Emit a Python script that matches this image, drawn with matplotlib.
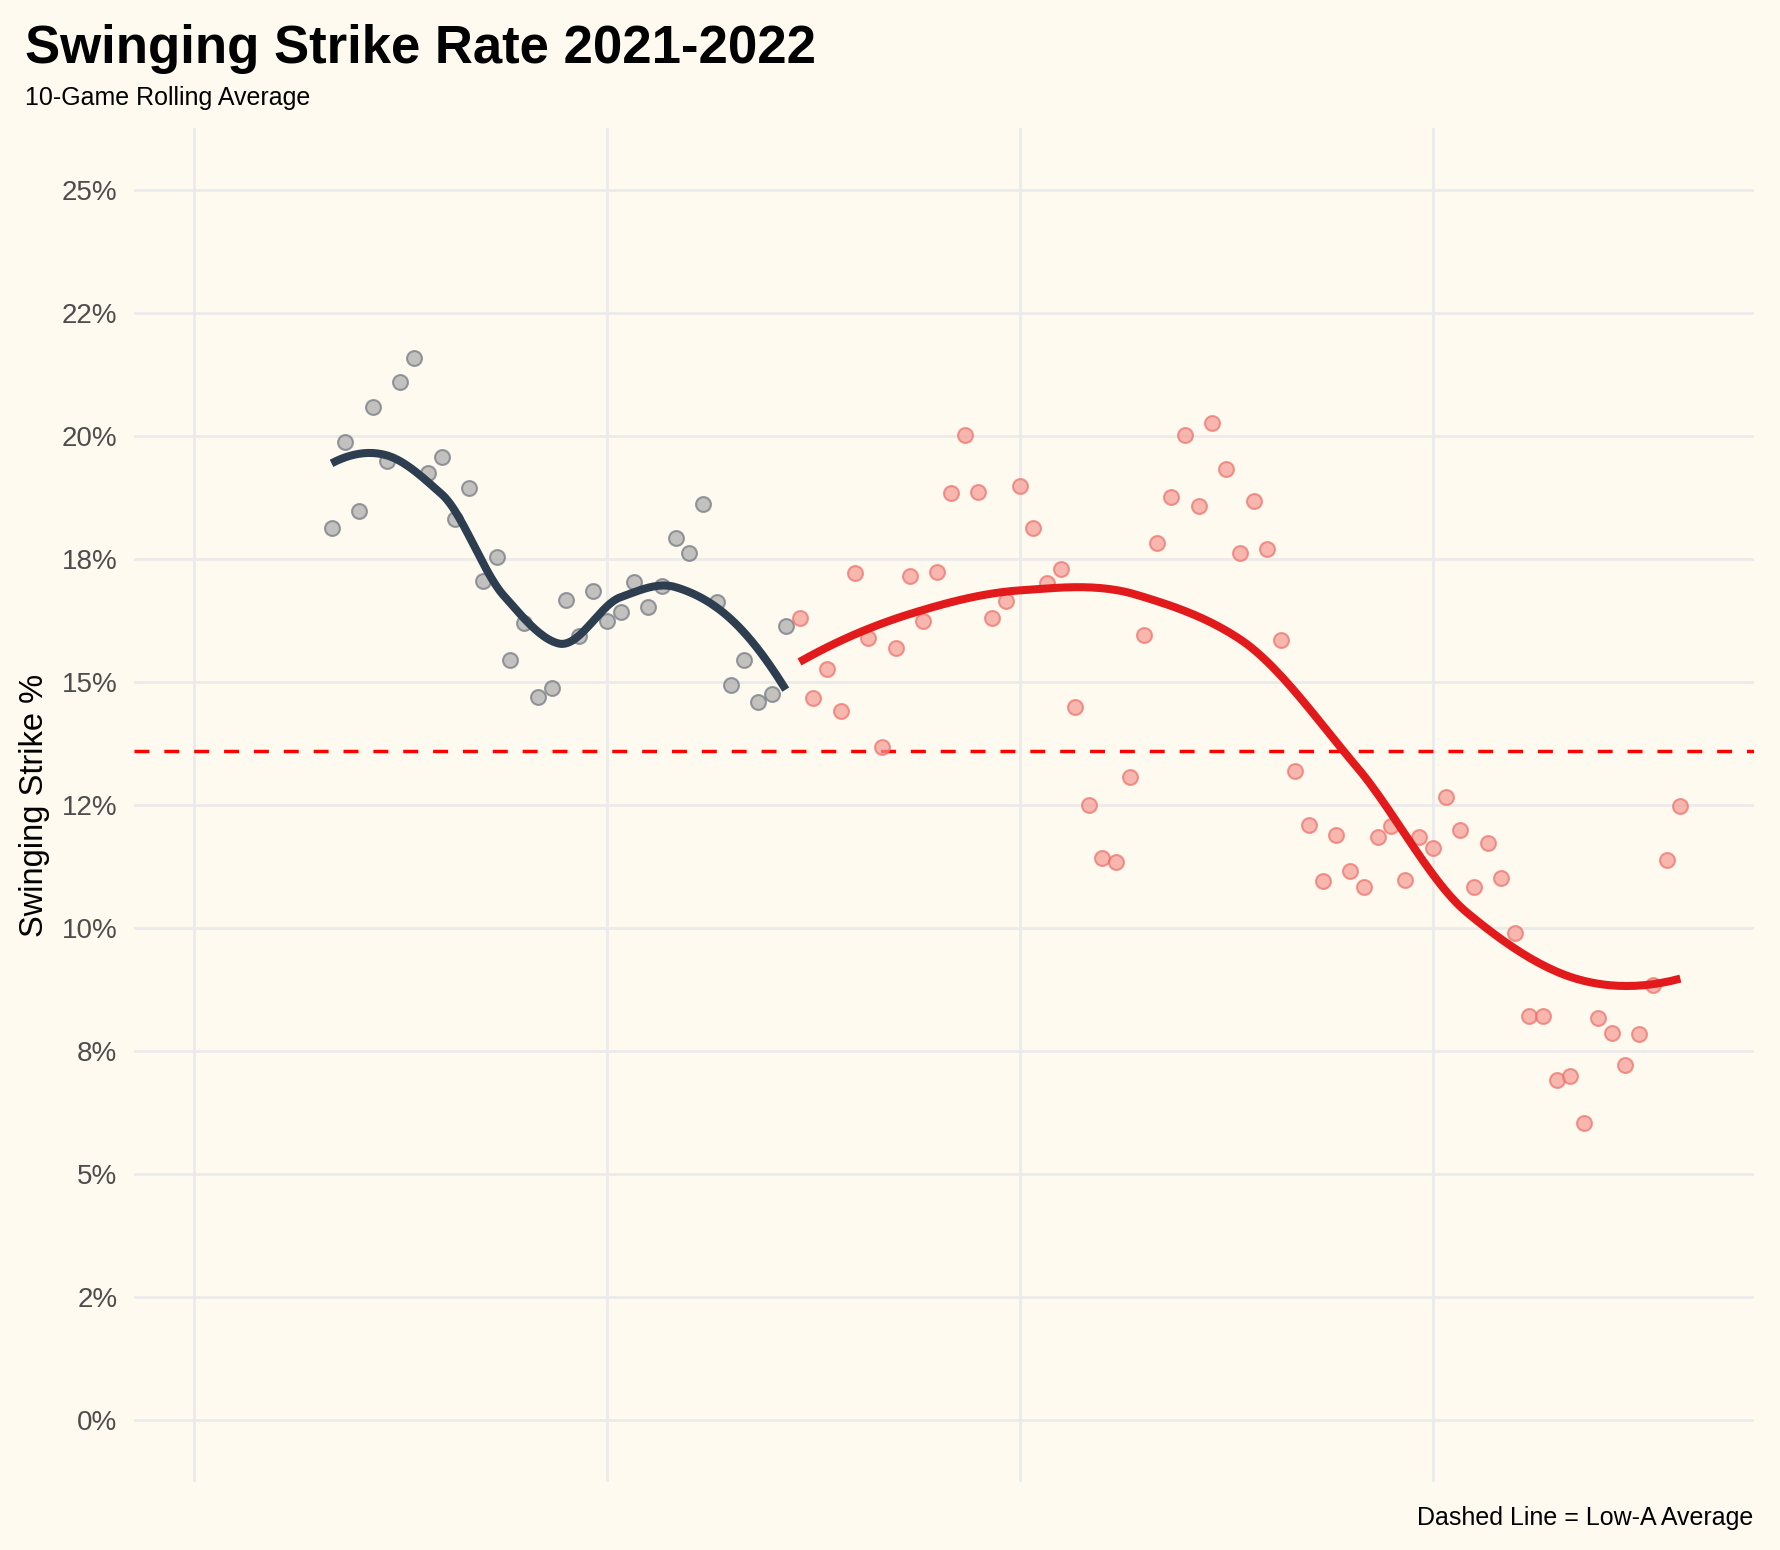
import numpy as np
import matplotlib
matplotlib.use("Agg")
import matplotlib.pyplot as plt

plt.rcParams['font.family'] = ['Liberation Sans', 'DejaVu Sans']

# 10-game rolling swinging strike rate (%), game number 10..108
games_2021 = list(range(10, 44))
swstr_2021 = [18.13, 19.87, 18.48, 20.58, 19.49, 21.10, 21.57, 19.25, 19.56, 18.31,
              18.94, 17.04, 17.53, 15.44, 16.19, 14.70, 14.88, 16.66, 15.93, 16.85,
              16.23, 16.41, 17.02, 16.53, 16.95, 17.92, 17.61, 18.61, 16.63, 14.94,
              15.45, 14.60, 14.75, 16.14]

games_2022 = list(range(44, 109))
swstr_2022 = [16.29, 14.68, 15.26, 14.41, 17.22, 15.90, 13.67, 15.68, 17.15, 16.24,
              17.24, 18.83, 20.01, 18.85, 16.29, 16.65, 18.98, 18.13, 17.00, 17.30,
              14.49, 12.51, 11.42, 11.34, 13.06, 15.96, 17.83, 18.76, 20.01, 18.58,
              20.26, 19.32, 17.61, 18.67, 17.70, 15.85, 13.19, 12.09, 10.96, 11.89,
              11.16, 10.84, 11.84, 12.07, 10.98, 11.85, 11.63, 12.66, 12.00, 10.83,
              11.72, 11.01, 9.90, 8.21, 8.21, 6.92, 6.99, 6.04, 8.18, 7.87,
              7.21, 7.85, 8.84, 11.38, 12.47]

low_a_avg = 13.6
y_ticks = [0, 2.5, 5, 7.5, 10, 12.5, 15, 17.5, 20, 22.5, 25]
y_labels = ["0%", "2%", "5%", "8%", "10%", "12%", "15%", "18%", "20%", "22%", "25%"]
x_grid = [0, 30, 60, 90]


def local_fit(x, y, x0, q):
    # weighted quadratic around x0 with tricube weights, returns value and slope
    d = np.abs(x - x0)
    h = np.sort(d)[q - 1]
    w = np.clip(1 - (d / h) ** 3, 0, None) ** 3
    A = np.vstack([np.ones_like(x), x - x0, (x - x0) ** 2]).T
    W = np.sqrt(w)
    coef = np.linalg.lstsq(A * W[:, None], y * W, rcond=None)[0]
    return coef[0], coef[1]


def loess(x, y, span=0.75, n_out=200):
    # roughly R's loess: fits at kd-tree vertices, cubic hermite in between
    x = np.asarray(x, float)
    y = np.asarray(y, float)
    n = len(x)
    q = int(np.floor(n * span))
    fc = int(np.floor(n * span * 0.2))
    verts = {x.min(), x.max()}

    def split(pts):
        if len(pts) <= fc:
            return
        m = len(pts) // 2
        v = pts[m] if len(pts) % 2 else (pts[m - 1] + pts[m]) / 2
        verts.add(v)
        split(pts[pts <= v])
        split(pts[pts > v])

    split(np.sort(x))
    vx = np.array(sorted(verts))
    fits = [local_fit(x, y, v, q) for v in vx]
    vy = np.array([f[0] for f in fits])
    vd = np.array([f[1] for f in fits])

    xs = np.linspace(x.min(), x.max(), n_out)
    out = []
    for x0 in xs:
        i = min(np.searchsorted(vx, x0, side="right") - 1, len(vx) - 2)
        hh = vx[i + 1] - vx[i]
        t = (x0 - vx[i]) / hh
        h00 = 2 * t**3 - 3 * t**2 + 1
        h10 = t**3 - 2 * t**2 + t
        h01 = -2 * t**3 + 3 * t**2
        h11 = t**3 - t**2
        out.append(h00 * vy[i] + h10 * hh * vd[i] + h01 * vy[i + 1] + h11 * hh * vd[i + 1])
    return xs, np.array(out)


bg = "#fffaf0"
fig = plt.figure(figsize=(17.8, 15.5), dpi=100, facecolor=bg)
ax = fig.add_axes([0.0753, 0.0439, 0.9101, 0.8735], facecolor=bg)

ax.axhline(low_a_avg, color="#ff0000", lw=2.5, dashes=(4.3, 4.3), zorder=2)

ax.scatter(games_2021, swstr_2021, s=115, facecolor="#a9a9a9", edgecolor="#6f7580",
           linewidth=1.5, alpha=0.7, zorder=3)
ax.scatter(games_2022, swstr_2022, s=115, facecolor="#f59a93", edgecolor="#ec6f68",
           linewidth=1.5, alpha=0.7, zorder=3)

sx, sy = loess(games_2021, swstr_2021)
ax.plot(sx, sy, color="#2c3e50", lw=5.8, zorder=4, solid_capstyle="butt")
sx, sy = loess(games_2022, swstr_2022)
ax.plot(sx, sy, color="#e31a1c", lw=5.8, zorder=4, solid_capstyle="butt")

ax.set_xlim(-4.35, 113.35)
ax.set_ylim(-1.25, 26.25)
ax.set_yticks(y_ticks)
ax.set_yticklabels(y_labels)
ax.set_xticks(x_grid)
ax.set_xticklabels([])
ax.grid(True, color="#ebebeb", lw=2)
ax.set_axisbelow(True)
ax.tick_params(length=0, labelsize=20, labelcolor="#4d4d4d", pad=12)
for sp in ax.spines.values():
    sp.set_visible(False)

ax.set_ylabel("Swinging Strike %", fontsize=23.5, color="black")
ax.yaxis.set_label_coords(-0.052, 0.5)

fig.text(25 / 1780, 1 - 63 / 1550, "Swinging Strike Rate 2021-2022", fontsize=38,
         fontweight="bold", va="baseline", ha="left")
fig.text(25 / 1780, 1 - 105 / 1550, "10-Game Rolling Average", fontsize=18,
         va="baseline", ha="left")
fig.text(1753 / 1780, 1 - 1525 / 1550, "Dashed Line = Low-A Average", fontsize=18,
         va="baseline", ha="right")

fig.savefig("out.png", dpi=100, facecolor=bg)
